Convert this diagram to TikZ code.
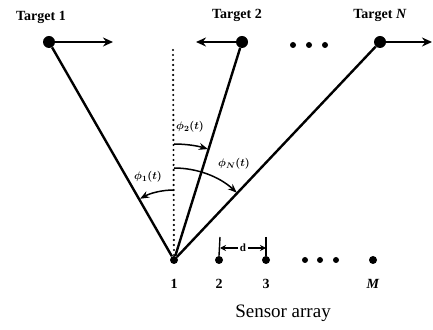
\documentclass[tikz,border=0pt]{standalone}
\usepackage{fontspec}
\setmainfont{Liberation Serif}
\usepackage{amsmath}
\usetikzlibrary{arrows.meta}

\begin{document}
\begin{tikzpicture}[x=1pt,y=1pt,
	target/.style={shape=circle,fill=black,inner sep=0pt,minimum size=12pt},
	sensor/.style={shape=circle,fill=black,inner sep=0pt,minimum size=8pt},
	gapdot/.style={shape=circle,fill=black,inner sep=0pt,minimum size=6pt},
	beam/.style={line width=2.4pt},
	motion/.style={line width=2.4pt,-{Stealth[length=10pt,width=9pt]}},
	sweep/.style={line width=1.5pt,-{Stealth[length=9pt,width=7pt]}},
	tlabel/.style={font=\fontsize{14}{16}\selectfont\bfseries},
	slabel/.style={font=\fontsize{14}{16}\selectfont\bfseries},
	alabel/.style={font=\fontsize{11}{13}\selectfont\boldmath}]
	
	\useasboundingbox (0,0) rectangle (433,329);
	
	% targets
	\node[target] (t1) at (49, 287)     {};
	\node[target] (t2) at (242, 287)    {};
	\node[target] (tN) at (380, 287)    {};
	\node[gapdot] (g1) at (293, 284)    {};
	\node[gapdot] (g2) at (309, 284)    {};
	\node[gapdot] (g3) at (325, 284)    {};
	
	\node[tlabel] (l1) at (41, 312)     {Target 1};
	\node[tlabel] (l2) at (237, 314)    {Target 2};
	\node[tlabel] (lN) at (380, 314)    {Target \textit{N}};
	
	\coordinate (m1) at (113, 287);
	\coordinate (m2) at (196, 287);
	\coordinate (mN) at (432, 287);
	
	% sensors
	\node[sensor] (s1) at (174, 69)     {};
	\node[sensor] (s2) at (219, 69)     {};
	\node[sensor] (s3) at (266, 69)     {};
	\node[gapdot] (h1) at (305, 69)     {};
	\node[gapdot] (h2) at (320, 69)     {};
	\node[gapdot] (h3) at (336, 69)     {};
	\node[sensor] (sM) at (373, 69)     {};
	
	\node[slabel] (n1) at (174, 45)     {1};
	\node[slabel] (n2) at (219, 45)     {2};
	\node[slabel] (n3) at (266, 45)     {3};
	\node[slabel] (nM) at (373, 45)     {\textit{M}};
	
	\node[font=\fontsize{19}{22}\selectfont] (arr) at (283, 16) {Sensor array};
	
	% spacing d
	\coordinate (d2) at (220, 92);
	\coordinate (d3) at (266, 92);
	\node[alabel,inner sep=1.5pt] (d) at (243, 81) {\bfseries d};
	\draw[line width=1.4pt] (d2) -- (s2.north);
	\draw[line width=1.4pt] (d3) -- (s3.north);
	\path[line width=1.4pt,-{Stealth[length=6pt,width=6pt]}] (d) edge (d.west -| d2);
	\path[line width=1.4pt,-{Stealth[length=6pt,width=6pt]}] (d) edge (d.east -| d3);
	
	% broadside and beams
	\coordinate (top) at (173, 279);
	\draw[line width=2.4pt,line cap=round,dash pattern=on 0pt off 5pt] (top) -- (s1);
	
	\path[beam] (s1) edge (t1);
	\path[beam] (s1) edge (t2);
	\path[beam] (s1) edge (tN);
	
	\path[motion] (t1) edge (m1);
	\path[motion] (t2) edge (m2);
	\path[motion] (tN) edge (mN);
	
	% bearing angles
	\draw[sweep] (s1) ++(90:70pt) arc[start angle=90, end angle=119, radius=70pt];
	\draw[sweep] (s1) ++(90:116pt) arc[start angle=90, end angle=73, radius=116pt];
	\draw[sweep] (s1) ++(90:92pt) arc[start angle=90, end angle=47, radius=92pt];
	
	\node[alabel] (p1) at (148, 152)    {$\phi_1(t)$};
	\node[alabel] (p2) at (190, 202)    {$\phi_2(t)$};
	\node[alabel] (pN) at (234, 165)    {$\phi_N(t)$};

\end{tikzpicture}
\end{document}
